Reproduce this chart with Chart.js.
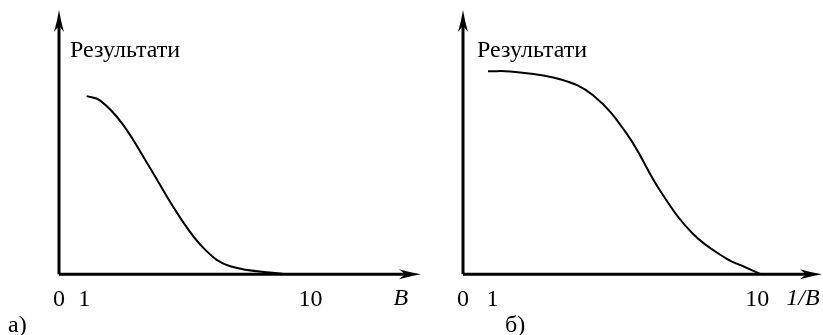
<!DOCTYPE html>
<html>
<head>
<meta charset="utf-8">
<script src="https://cdn.jsdelivr.net/npm/chart.js@4.4.0/dist/chart.umd.min.js"></script>
<style>
    body { margin: 0; background: #fff; width: 823px; height: 335px; position: relative; overflow: hidden; }
    canvas { position: absolute; top: 0; }
    #chartA { left: 0; }
    #chartB { left: 423px; }
</style>
</head>
<body>
<canvas id="chartA" width="423" height="335"></canvas>
<canvas id="chartB" width="400" height="335"></canvas>
<script>
// tick values shared by both panels
const xTicks = [0, 1, 10];

// panel a: results against B
const bValues = [1.10, 1.63, 2.50, 3.49, 4.82, 5.82, 6.81, 8.94];
const resultsA = [67.4, 65.8, 57.2, 42.3, 21.4, 9.2, 3.0, 0.1];

// panel б: results against 1/B
const invBValues = [0.85, 1.60, 3.30, 4.42, 5.58, 6.70, 7.82, 8.98, 9.52, 10.10];
const resultsB = [76.8, 76.7, 73.8, 67.7, 52.9, 31.6, 15.2, 5.7, 3.0, 0.1];

const serif = '"Liberation Serif", serif';

function drawArrow(ctx, x, y, dx, dy) {
    // narrow arrow head with a notched back
    const len = 22, half = 5;
    const px = -dy, py = dx;
    ctx.beginPath()
    ctx.moveTo(x, y)
    ctx.quadraticCurveTo(x - dx * len * 0.5 + px * half * 0.35, y - dy * len * 0.5 + py * half * 0.35,
        x - dx * len + px * half, y - dy * len + py * half)
    ctx.lineTo(x - dx * len * 0.72, y - dy * len * 0.72)
    ctx.lineTo(x - dx * len - px * half, y - dy * len - py * half)
    ctx.quadraticCurveTo(x - dx * len * 0.5 - px * half * 0.35, y - dy * len * 0.5 - py * half * 0.35, x, y)
    ctx.fill()
}

const axesPlugin = {
    id: 'axesPlugin',
    afterDatasetsDraw(chart, args, opts) {
        const { ctx, chartArea: { left, right, top, bottom }, scales: { x } } = chart
        ctx.save()
        ctx.strokeStyle = '#000'
        ctx.fillStyle = '#000'
        ctx.lineWidth = 3
        ctx.beginPath()
        ctx.moveTo(left, bottom)
        ctx.lineTo(right - 14, bottom)
        ctx.moveTo(left, bottom)
        ctx.lineTo(left, top + 14)
        ctx.stroke()
        drawArrow(ctx, right, bottom, 1, 0)
        drawArrow(ctx, left, top, 0, -1)

        ctx.textAlign = 'left'
        ctx.textBaseline = 'alphabetic'
        ctx.font = `24px ${serif}`
        ctx.fillText('Результати', left + opts.titleDx, top + 47)
        ctx.fillText(opts.panel, opts.panelX, 332)

        ctx.textAlign = 'center'
        ctx.font = `italic 24px ${serif}`
        ctx.fillText(opts.axisName, x.getPixelForValue(opts.axisNameAt), 305)
        ctx.restore()
    }
}

function makeChart(id, xs, ys, xMax, padding, opts) {
    let chartStatus = Chart.getChart(id)
    if (chartStatus != undefined) {
        chartStatus.destroy()
    }
    return new Chart(document.getElementById(id), {
        type: 'line',
        data: {
            datasets: [{
                data: xs.map((v, i) => ({ x: v, y: ys[i] })),
                borderColor: '#000',
                borderWidth: 2,
                pointRadius: 0,
                tension: 0.4,
                fill: false
            }]
        },
        options: {
            responsive: false,
            animation: false,
            layout: { padding },
            plugins: {
                legend: { display: false },
                tooltip: { enabled: false },
                axesPlugin: opts
            },
            scales: {
                x: {
                    type: 'linear',
                    min: 0,
                    max: xMax,
                    afterBuildTicks: (scale) => { scale.ticks = xTicks.map(v => ({ value: v })) },
                    grid: { display: false, drawTicks: false },
                    border: { display: false },
                    ticks: {
                        color: '#000',
                        padding: 11,
                        autoSkip: false,
                        maxRotation: 0,
                        font: { family: serif, size: 24 }
                    }
                },
                y: {
                    display: false,
                    min: 0,
                    max: 100
                }
            }
        },
        plugins: [axesPlugin]
    })
}

makeChart('chartA', bValues, resultsA, 14.4, { left: 59, right: 2, top: 10, bottom: 10 },
    { titleDx: 11, panel: 'а)', panelX: 8, axisName: 'B', axisNameAt: 13.6 })
makeChart('chartB', invBValues, resultsB, 12.2, { left: 40, right: 1, top: 10, bottom: 10 },
    { titleDx: 14, panel: 'б)', panelX: 82, axisName: '1/B', axisNameAt: 11.55 })
</script>
</body>
</html>
